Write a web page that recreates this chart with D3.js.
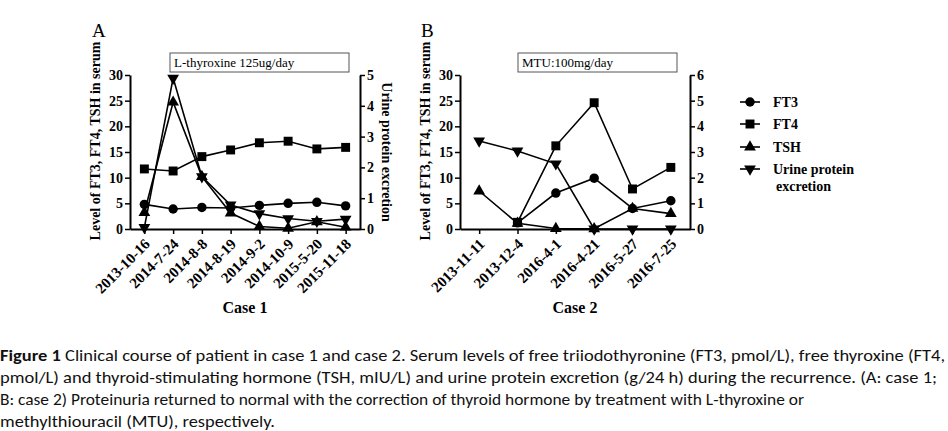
<!DOCTYPE html>
<html><head><meta charset="utf-8">
<script src="https://cdn.jsdelivr.net/npm/d3@7"></script>
<style>
html,body{margin:0;padding:0;background:#fff;}
svg{display:block;}
.tick text{font-family:"Liberation Serif","Times New Roman",serif;font-weight:bold;font-size:14px;fill:#000;}
.xt text{font-size:15px;}
</style></head>
<body>
<svg id="c" width="948" height="431"></svg>
<script>
// ---- data ----
const datesA = ["2013-10-16","2014-7-24","2014-8-8","2014-8-19","2014-9-2","2014-10-9","2015-5-20","2015-11-18"];
const ft3A   = [4.8, 3.9, 4.2, 4.1, 4.6, 5.0, 5.2, 4.5];
const ft4A   = [11.7, 11.3, 14.1, 15.4, 16.8, 17.1, 15.6, 15.9];
const tshA   = [3.2, 24.7, 10.2, 3.1, 0.5, 0.15, 1.4, 0.35];
const urineA = [0.05, 4.9, 1.7, 0.78, 0.5, 0.34, 0.25, 0.32];

const datesB = ["2013-11-11","2013-12-4","2016-4-1","2016-4-21","2016-5-27","2016-7-25"];
const ft3B   = [null, 1.2, 7.0, 9.9, 4.0, 5.5];
const ft4B   = [null, 1.3, 16.2, 24.6, 7.8, 12.0];
const tshB   = [7.4, 1.1, 0.1, 0.05, 4.0, 3.0];
const urineB = [3.43, 3.04, 2.54, 0, 0, 0];

const leftTicks = [0,5,10,15,20,25,30];
const rightTicksA = [0,1,2,3,4,5];
const rightTicksB = [0,1,2,3,4,5,6];
const legendLabels = ["FT3","FT4","TSH","Urine protein"];

const svg = d3.select("#c");
svg.append("rect").attr("width",948).attr("height",431).attr("fill","#fff");
const serif = '"Liberation Serif","Times New Roman",serif';

function panel(o){
  const g = svg.append("g");
  const x = d3.scalePoint().domain(o.dates).range([o.x0,o.x1]).padding(0.5);
  const yL = d3.scaleLinear().domain([0,30]).range([229,75]);
  const yR = d3.scaleLinear().domain([0,o.rmax]).range([229,75]);

  // axes
  const ax = g.append("g").attr("class","xt").attr("transform","translate(0,229)")
    .call(d3.axisBottom(x).tickSize(5).tickSizeOuter(0).tickFormat(""));
  ax.selectAll(".tick text").remove();
  ax.selectAll("g.tick").append("text")
    .attr("text-anchor","end")
    .attr("transform","translate(6,16) rotate(-45)")
    .text(d=>d);
  g.append("g").attr("transform",`translate(${o.x0},0)`)
    .call(d3.axisLeft(yL).tickValues(leftTicks).tickSize(5).tickSizeOuter(0).tickPadding(2));
  g.append("g").attr("transform",`translate(${o.x1},0)`)
    .call(d3.axisRight(yR).tickValues(o.rticks).tickFormat(d3.format("d")).tickSize(5).tickSizeOuter(0).tickPadding(2));
  g.selectAll(".domain").attr("stroke","#000").attr("stroke-width",2);
  g.selectAll(".tick line").attr("stroke","#000").attr("stroke-width",1.5);

  // series
  const series = [
    {v:o.ft3, y:yL, sym:d3.symbolCircle, size:70, rot:0},
    {v:o.ft4, y:yL, sym:d3.symbolSquare, size:80, rot:0},
    {v:o.tsh, y:yL, sym:d3.symbolTriangle, size:60, rot:0},
    {v:o.urine, y:yR, sym:d3.symbolTriangle, size:60, rot:180}
  ];
  series.forEach(s=>{
    const pts = o.dates.map((d,i)=>({d, v:s.v[i]})).filter(p=>p.v!==null);
    g.append("path").datum(pts)
      .attr("fill","none").attr("stroke","#000").attr("stroke-width",1.6)
      .attr("d", d3.line().x(p=>x(p.d)).y(p=>s.y(p.v)));
    g.selectAll(null).data(pts).enter().append("path")
      .attr("d", d3.symbol().type(s.sym).size(s.size))
      .attr("transform", p=>`translate(${x(p.d)},${s.y(p.v)}) rotate(${s.rot})`)
      .attr("fill","#000");
  });

  // titles
  g.append("text").attr("transform",`translate(${o.ltx},141) rotate(-90)`)
    .attr("text-anchor","middle").attr("font-family",serif).attr("font-weight","bold")
    .attr("font-size",14).text("Level of FT3, FT4, TSH in serum");
  g.append("text").attr("x",(o.x0+o.x1)/2).attr("y",313).attr("text-anchor","middle")
    .attr("font-family",serif).attr("font-weight","bold").attr("font-size",16).text(o.case);
  g.append("text").attr("x",o.lx).attr("y",37).attr("font-family",serif).attr("font-size",19).text(o.letter);
  g.append("rect").attr("x",o.bx).attr("y",53).attr("width",o.bw).attr("height",19)
    .attr("fill","#fff").attr("stroke","#555").attr("stroke-width",1);
  g.append("text").attr("x",o.bx+4).attr("y",67).attr("font-family",serif).attr("font-size",13).text(o.box);
  return g;
}

panel({dates:datesA, ft3:ft3A, ft4:ft4A, tsh:tshA, urine:urineA, x0:130, x1:360, rmax:5, rticks:rightTicksA,
  ltx:100, case:"Case 1", letter:"A", lx:92, bx:170, bw:179, box:"L-thyroxine 125ug/day"});
panel({dates:datesB, ft3:ft3B, ft4:ft4B, tsh:tshB, urine:urineB, x0:460, x1:690, rmax:6, rticks:rightTicksB,
  ltx:430, case:"Case 2", letter:"B", lx:421, bx:518, bw:159, box:"MTU:100mg/day"});

// right axis title A
svg.append("text").attr("transform","translate(382,152) rotate(90)")
  .attr("text-anchor","middle").attr("font-family",serif).attr("font-weight","bold")
  .attr("font-size",14).text("Urine protein excretion");
// right axis title B (partially hidden)
svg.append("clipPath").attr("id","clipB").append("rect").attr("x",699).attr("y",60).attr("width",9).attr("height",180);
svg.append("text").attr("clip-path","url(#clipB)").attr("transform","translate(701,152) rotate(90)")
  .attr("text-anchor","middle").attr("font-family",serif).attr("font-weight","bold")
  .attr("font-size",14).text("Urine protein excretion");

// legend
const legY = [102,124,147,169];
const legSyms = [[d3.symbolCircle,70,0],[d3.symbolSquare,80,0],[d3.symbolTriangle,60,0],[d3.symbolTriangle,60,180]];
const lg = svg.append("g");
legendLabels.forEach((t,i)=>{
  lg.append("line").attr("x1",740).attr("x2",760).attr("y1",legY[i]).attr("y2",legY[i]).attr("stroke","#000").attr("stroke-width",1.6);
  lg.append("path").attr("d",d3.symbol().type(legSyms[i][0]).size(legSyms[i][1]))
    .attr("transform",`translate(750,${legY[i]}) rotate(${legSyms[i][2]})`).attr("fill","#000");
  lg.append("text").attr("x",773).attr("y",legY[i]+5).attr("font-family",serif).attr("font-weight","bold")
    .attr("font-size",14).text(t);
});
lg.append("text").attr("x",776).attr("y",191).attr("font-family",serif).attr("font-weight","bold")
  .attr("font-size",14).text("excretion");

// caption
const capFont = 'Carlito,"Liberation Sans Narrow","Open Sans",sans-serif';
const cap = [
  {b:"Figure 1", t:" Clinical course of patient in case 1 and case 2. Serum levels of free triiodothyronine (FT3, pmol/L), free thyroxine (FT4,", w:945},
  {b:"", t:"pmol/L) and thyroid-stimulating hormone (TSH, mIU/L) and urine protein excretion (g/24 h) during the recurrence. (A: case 1;", w:937},
  {b:"", t:"B: case 2) Proteinuria returned to normal with the correction of thyroid hormone by treatment with L-thyroxine or", w:804},
  {b:"", t:"methylthiouracil (MTU), respectively.", w:275}
];
const capY = [361,383,405,427];
cap.forEach((c,i)=>{
  const tx = svg.append("text").attr("x",0).attr("y",capY[i]).attr("font-family",capFont).attr("font-size",16)
    .attr("textLength",c.w).attr("lengthAdjust","spacingAndGlyphs").attr("fill","#111");
  if(c.b) tx.append("tspan").attr("font-weight","bold").text(c.b);
  tx.append("tspan").text(c.t);
});
</script>
</body></html>
